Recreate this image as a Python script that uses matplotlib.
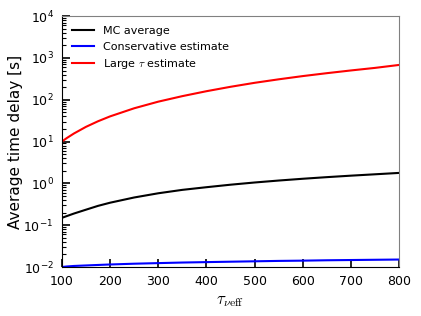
import numpy as np
from matplotlib import pyplot as plt

plt.rcParams['mathtext.fontset'] = 'cm'

# values
tau = [100, 110, 125, 150, 175, 200, 250, 300, 350, 400, 450, 500, 550, 600, 650, 700, 750, 800]
mcAverage = [0.15, 0.165, 0.19, 0.235, 0.29, 0.345, 0.46, 0.58, 0.70, 0.81, 0.93, 1.05, 1.17, 1.29, 1.41, 1.53, 1.65, 1.78]
conservative = [0.0100, 0.0103, 0.0106, 0.0109, 0.0112, 0.0115, 0.0120, 0.0124, 0.0128, 0.0131, 0.0134, 0.0137, 0.0140, 0.0142, 0.0145, 0.0147, 0.0149, 0.0151]
largeTau = [10, 12.1, 15.6, 22.5, 30.6, 40, 62.5, 90, 122, 160, 204, 254, 308, 368, 432, 502, 578, 680]

xTicks = [100, 200, 300, 400, 500, 600, 700, 800]

fig, ax = plt.subplots(1, 1, figsize=(4.21, 3.16), dpi=100)
ax.plot(tau, mcAverage, color='black', lw=1.5, label='MC average')
ax.plot(tau, conservative, color='blue', lw=1.5, label='Conservative estimate')
ax.plot(tau, largeTau, color='red', lw=1.5, label=r'Large $\tau$ estimate')

ax.set_yscale('log')
ax.set_xlim(100, 800)
ax.set_ylim(1e-2, 1e4)
ax.set_xticks(xTicks)
ax.set_xlabel(r'$\tau_{\nu \mathrm{eff}}$', fontsize=12, labelpad=2)
ax.set_ylabel('Average time delay [s]', fontsize=11, labelpad=0)

ax.tick_params(axis='both', which='both', direction='in', top=False, right=False, labelsize=9)
ax.tick_params(axis='both', which='major', length=6, width=1.2, pad=6)
ax.tick_params(axis='y', which='minor', length=3, width=0.8)
ax.spines['top'].set_color('gray')
ax.spines['right'].set_color('gray')

ax.legend(loc='upper left', frameon=False, fontsize=8)

fig.subplots_adjust(left=0.147, right=0.948, top=0.949, bottom=0.155)
fig.savefig('out.png')
